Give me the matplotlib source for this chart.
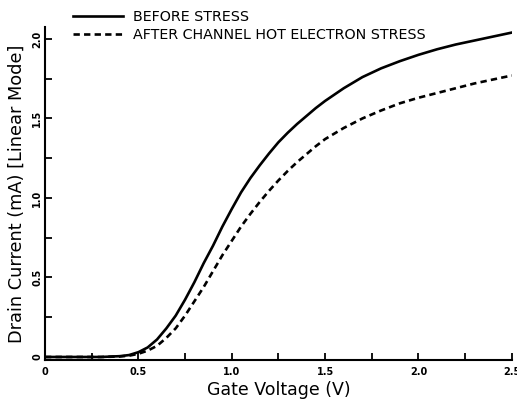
import matplotlib
matplotlib.use('Agg')
import matplotlib.pyplot as plt
from matplotlib.lines import Line2D

# gate voltage sweep (V)
vg = [0.0, 0.1, 0.2, 0.3, 0.4, 0.45, 0.5, 0.55, 0.6, 0.65, 0.7, 0.75, 0.8,
      0.85, 0.9, 0.95, 1.0, 1.05, 1.1, 1.15, 1.2, 1.25, 1.3, 1.35, 1.4, 1.45,
      1.5, 1.6, 1.7, 1.8, 1.9, 2.0, 2.1, 2.2, 2.3, 2.4, 2.5]
# drain current (mA), linear mode
id_before = [0.0, 0.0, 0.0, 0.0, 0.005, 0.012, 0.03, 0.06, 0.11, 0.18, 0.26,
             0.36, 0.47, 0.59, 0.70, 0.82, 0.93, 1.035, 1.125, 1.205, 1.28,
             1.35, 1.41, 1.465, 1.515, 1.565, 1.61, 1.69, 1.76, 1.815, 1.86,
             1.90, 1.935, 1.965, 1.99, 2.015, 2.04]
id_after = [0.0, 0.0, 0.0, 0.0, 0.003, 0.008, 0.02, 0.04, 0.07, 0.12, 0.18,
            0.26, 0.35, 0.44, 0.54, 0.64, 0.73, 0.82, 0.90, 0.975, 1.045,
            1.11, 1.17, 1.225, 1.275, 1.325, 1.37, 1.44, 1.50, 1.55, 1.595,
            1.63, 1.66, 1.69, 1.72, 1.745, 1.77]

x_ticks = [0, 0.5, 1.0, 1.5, 2.0, 2.5]
x_ticklabels = ['0', '0.5', '1.0', '1.5', '2.0', '2.5']
y_ticks = [0, 0.5, 1.0, 1.5, 2.0]
y_ticklabels = ['0', '0.5', '1.0', '1.5', '2.0']
minor_ticks_x = [0.25, 0.75, 1.25, 1.75, 2.25]
minor_ticks_y = [0.25, 0.75, 1.25, 1.75]

plt.rcParams['font.family'] = ['DejaVu Sans']

fig = plt.figure(figsize=(5.17, 4.0), dpi=100)
ax = fig.add_axes([0.087, 0.10, 0.903, 0.8325])

ax.plot(vg, id_before, color='black', lw=1.9, solid_joinstyle='round')
ax.plot(vg, id_after, color='black', lw=1.9, linestyle=(0, (2.4, 1.6)))

ax.set_xlim(0, 2.5)
ax.set_ylim(-0.019, 2.075)

for side in ['top', 'right']:
    ax.spines[side].set_visible(False)
for side in ['left', 'bottom']:
    ax.spines[side].set_linewidth(1.5)

ax.set_xticks(x_ticks)
ax.set_xticklabels(x_ticklabels, fontweight='bold', fontsize=7)
ax.set_yticks(y_ticks)
ax.set_yticklabels(y_ticklabels, fontweight='bold', fontsize=7,
                   rotation=90, va='center')
ax.set_xticks(minor_ticks_x, minor=True)
ax.set_yticks(minor_ticks_y, minor=True)
ax.tick_params(which='both', direction='in', length=5, width=1.3, pad=5)
ax.tick_params(axis='y', which='both', pad=2)

ax.set_xlabel('Gate Voltage (V)', fontsize=12.5, labelpad=3)
ax.set_ylabel('Drain Current (mA) [Linear Mode]', fontsize=12.8, labelpad=5)

handles = [Line2D([], [], color='black', lw=1.9),
           Line2D([], [], color='black', lw=1.9, linestyle=(0, (2.4, 1.6)))]
fig.legend(handles, ['BEFORE STRESS', 'AFTER CHANNEL HOT ELECTRON STRESS'],
           loc='upper left', bbox_to_anchor=(0.122, 1.0), frameon=False,
           fontsize=10.3, handlelength=3.5, handletextpad=0.7,
           labelspacing=0.3, borderaxespad=0.3)

fig.savefig('out.png', dpi=100)
